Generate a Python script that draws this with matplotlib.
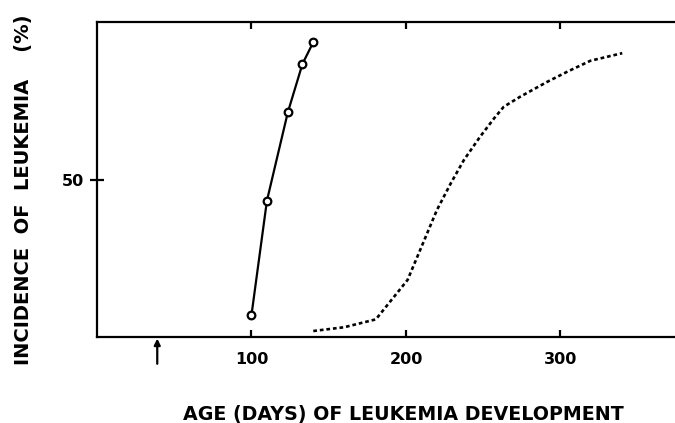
import matplotlib
matplotlib.use("Agg")
import matplotlib.pyplot as plt
import matplotlib.transforms as mtransforms

# Data
solid_days = [100, 110, 123.5, 133, 140]
solid_incidence = [7, 43.3, 71.3, 86.7, 93.6]

dotted_days = [140, 160, 180.5, 201, 208.3, 220, 229, 237.5, 248, 257,
               263.3, 274, 291.4, 304.3, 319.4, 340]
dotted_incidence = [1.9, 3.1, 5.6, 18.1, 26.6, 40.3, 48.8, 56.2, 63.6, 69.4,
                    73.1, 76.3, 81.0, 84.2, 87.7, 90.1]

x_ticks = [100, 200, 300]
x_tick_labels = ["100", "200", "300"]
y_ticks = [50]
y_tick_labels = ["50"]
arrow_day = 39

xlabel = "AGE (DAYS) OF LEUKEMIA DEVELOPMENT"
ylabel = "INCIDENCE  OF  LEUKEMIA    (%)"

plt.rcParams['font.family'] = ['DejaVu Sans']

fig = plt.figure(figsize=(6.75, 4.23), dpi=100)
ax = fig.add_axes([97/675, 1 - 337/423, 1 - 97/675 + 0.002, (337 - 22)/423])

ax.plot(solid_days, solid_incidence, color='black', lw=1.6, marker='o',
        markersize=5.5, markerfacecolor='white', markeredgecolor='black',
        markeredgewidth=1.6, zorder=3)
ax.plot(dotted_days, dotted_incidence, color='black', lw=1.9,
        linestyle=(0, (1.4, 1.1)), dash_capstyle='butt', zorder=2)

ax.set_xlim(0, 375)
ax.set_ylim(0, 100)

ax.set_xticks(x_ticks)
ax.set_xticklabels(x_tick_labels, fontsize=11.5, fontweight='bold')
ax.set_yticks(y_ticks)
ax.set_yticklabels(y_tick_labels, fontsize=11.5, fontweight='bold')

ax.tick_params(axis='x', direction='in', length=5, width=1.6, pad=11,
               top=True, bottom=True)
ax.tick_params(axis='y', direction='inout', length=10, width=1.6, pad=4,
               left=True, right=False)

for side in ['left', 'bottom', 'top']:
    ax.spines[side].set_linewidth(1.6)
ax.spines['right'].set_visible(False)

trans = mtransforms.blended_transform_factory(ax.transData, ax.transAxes)
ax.annotate('', xy=(arrow_day, -0.005), xycoords=trans,
            xytext=(arrow_day, -0.085), textcoords=trans,
            arrowprops=dict(arrowstyle='-|>', color='black', lw=1.6,
                            mutation_scale=9, shrinkA=0, shrinkB=0),
            annotation_clip=False)

fig.text(403/675, 1 - 414/423, xlabel, ha='center', va='center',
         fontsize=13.7, fontweight='bold')
fig.text(24/675, 1 - 190/423, ylabel, ha='center', va='center',
         rotation=90, fontsize=14, fontweight='bold')

fig.savefig('out.png', dpi=100)
